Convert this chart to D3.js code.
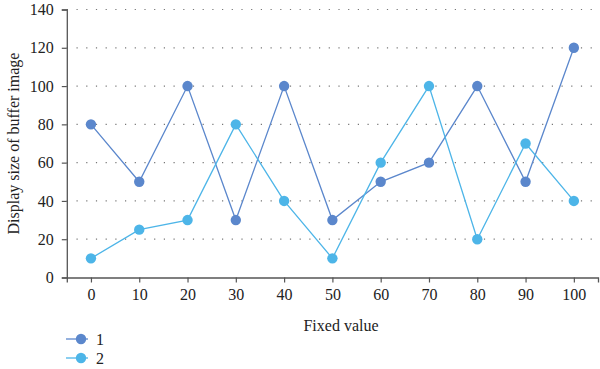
<!DOCTYPE html>
<html>
<head>
<meta charset="utf-8">
<script src="https://cdn.jsdelivr.net/npm/d3@7"></script>
<style>
  body { margin: 0; background: #fff; }
  text { font-family: "Liberation Serif", "Times New Roman", serif; fill: #222; }
</style>
</head>
<body>
<div id="chart"></div>
<script>
const xValues = [0, 10, 20, 30, 40, 50, 60, 70, 80, 90, 100];
const series1 = [80, 50, 100, 30, 100, 30, 50, 60, 100, 50, 120];
const series2 = [10, 25, 30, 80, 40, 10, 60, 100, 20, 70, 40];
const seriesNames = ["1", "2"];
const colors = ["#5b87cc", "#4db5e8"];
const yTicks = [0, 20, 40, 60, 80, 100, 120, 140];

const width = 600, height = 369;
const margin = {top: 9.5, left: 66.8, right: 2, bottom: 91.5};

const svg = d3.select("#chart").append("svg")
  .attr("width", width)
  .attr("height", height);

const x = d3.scaleLinear().domain([-5, 105]).range([margin.left, width - margin.right]);
const y = d3.scaleLinear().domain([0, 140]).range([height - margin.bottom, margin.top]);

// grid
svg.append("g")
  .selectAll("line")
  .data(yTicks.filter(d => d > 0))
  .enter()
  .append("line")
  .attr("x1", margin.left)
  .attr("x2", width - margin.right)
  .attr("y1", d => y(d))
  .attr("y2", d => y(d))
  .attr("stroke", "#777")
  .attr("stroke-width", 1.2)
  .attr("stroke-dasharray", "1.2,8.5");

// axes
const xAxis = svg.append("g")
  .attr("transform", `translate(0,${y(0)})`)
  .call(d3.axisBottom(x).tickValues(xValues).tickSizeOuter(0).tickSize(5).tickPadding(6));
const yAxis = svg.append("g")
  .attr("transform", `translate(${margin.left},0)`)
  .call(d3.axisLeft(y).tickValues(yTicks).tickSizeOuter(0).tickSize(5).tickPadding(8));

[xAxis, yAxis].forEach(a => {
  a.attr("font-size", null).attr("font-family", null);
  a.select(".domain").attr("stroke", "#555").attr("stroke-width", 1.3);
  a.selectAll(".tick line").attr("stroke", "#555").attr("stroke-width", 1.2);
  a.selectAll(".tick text")
    .style("font-size", "16px")
    .attr("fill", "#222");
});

// lines and points
const data = [series1, series2];
const line = d3.line()
  .x((d, i) => x(xValues[i]))
  .y(d => y(d));

data.forEach((s, k) => {
  const g = svg.append("g");
  g.append("path")
    .datum(s)
    .attr("d", line)
    .attr("fill", "none")
    .attr("stroke", colors[k])
    .attr("stroke-width", 1.3);
  g.selectAll("circle")
    .data(s)
    .enter()
    .append("circle")
    .attr("cx", (d, i) => x(xValues[i]))
    .attr("cy", d => y(d))
    .attr("r", 5.2)
    .attr("fill", colors[k]);
});

// axis titles
svg.append("text")
  .attr("x", 341)
  .attr("y", 331)
  .attr("text-anchor", "middle")
  .style("font-size", "16px")
  .text("Fixed value");

svg.append("text")
  .attr("transform", `translate(19,${(y(0) + y(140)) / 2}) rotate(-90)`)
  .attr("text-anchor", "middle")
  .style("font-size", "16px")
  .text("Display size of buffer image");

// legend
const legend = svg.append("g");
seriesNames.forEach((name, k) => {
  const ly = 339 + k * 19;
  legend.append("line")
    .attr("x1", 66)
    .attr("x2", 88)
    .attr("y1", ly)
    .attr("y2", ly)
    .attr("stroke", colors[k])
    .attr("stroke-width", 1.3);
  legend.append("circle")
    .attr("cx", 81)
    .attr("cy", ly)
    .attr("r", 5.2)
    .attr("fill", colors[k]);
  legend.append("text")
    .attr("x", 96)
    .attr("y", ly)
    .attr("dy", "0.35em")
    .style("font-size", "16px")
    .text(name);
});
</script>
</body>
</html>
